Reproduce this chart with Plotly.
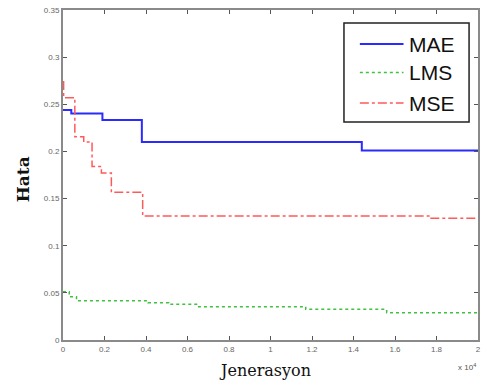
import plotly.graph_objects as go

# Step-wise error curves over generations (x in units of 10^4)
mae_x = [0, 0.04, 0.19, 0.38, 1.44, 2.0]
mae_y = [0.244, 0.2403, 0.2333, 0.2100, 0.2010, 0.2010]

lms_x = [0, 0.03, 0.065, 0.41, 0.51, 0.65, 1.17, 1.56, 2.0]
lms_y = [0.0513, 0.046, 0.0417, 0.0396, 0.0378, 0.0353, 0.0325, 0.029, 0.029]

mse_x = [0, 0.003, 0.057, 0.10, 0.14, 0.185, 0.233, 0.384, 1.77, 2.0]
mse_y = [0.274, 0.257, 0.2156, 0.2100, 0.184, 0.177, 0.1566, 0.1315, 0.129, 0.129]

x_ticks = [0, 0.2, 0.4, 0.6, 0.8, 1, 1.2, 1.4, 1.6, 1.8, 2]
y_ticks = [0, 0.05, 0.1, 0.15, 0.2, 0.25, 0.3, 0.35]
y_tick_text = ["0", "0.05", "0.1", "0.15", "0.2", "0.25", "0.3", "0.35"]

series = [
    ("MAE", mae_x, mae_y, dict(color="#2b2bff", width=2, dash="solid")),
    ("LMS", lms_x, lms_y, dict(color="#3fc23f", width=1.5, dash="dot")),
    ("MSE", mse_x, mse_y, dict(color="#ff5a5a", width=1.5, dash="dashdot")),
]

W, H = 487, 385
L, R, T, B = 63, 6, 10, 45
PW, PH = W - L - R, H - T - B


def px(x):
    return (x - L) / PW


def py(y):
    return (H - B - y) / PH


fig = go.Figure()
for name, xs, ys, ln in series:
    fig.add_trace(go.Scatter(x=xs, y=ys, name=name, mode="lines", showlegend=False,
                             line=dict(shape="hv", **ln)))

axis_common = dict(showline=True, linecolor="#8a8a8a", linewidth=2, mirror="ticks",
                   ticks="inside", ticklen=4, tickcolor="#555", showgrid=False,
                   zeroline=False, tickfont=dict(family="Liberation Sans", size=8, color="#666"))

fig.update_xaxes(range=[0, 2], tickvals=x_ticks, **axis_common)
fig.update_yaxes(range=[0, 0.35], tickvals=y_ticks, ticktext=y_tick_text, **axis_common)

# Axis titles
fig.add_annotation(text="Jenerasyon", x=px(266), y=py(370), xref="paper", yref="paper",
                   xanchor="center", yanchor="middle", showarrow=False,
                   font=dict(family="DejaVu Serif", size=16, color="#111"))
fig.add_annotation(text="<b>Hata</b>", x=px(23), y=py(179), xref="paper", yref="paper",
                   xanchor="center", yanchor="middle", showarrow=False, textangle=-90,
                   font=dict(family="DejaVu Serif", size=17, color="#111"))
fig.add_annotation(text="x 10<sup>4</sup>", x=1.0, y=-0.06, xref="paper", yref="paper",
                   xanchor="right", yanchor="top", showarrow=False,
                   font=dict(family="Liberation Sans", size=8, color="#555"))

# Legend box with line samples
fig.add_shape(type="rect", xref="paper", yref="paper",
              x0=px(346), x1=px(472), y0=py(122), y1=py(23),
              line=dict(color="#222", width=1.5), fillcolor="white", layer="above")
legend_rows = [44, 72.5, 103]
for (name, _, _, ln), ry in zip(series, legend_rows):
    fig.add_shape(type="line", xref="paper", yref="paper",
                  x0=px(362), x1=px(406), y0=py(ry), y1=py(ry),
                  line=ln, layer="above")
    fig.add_annotation(text=name, x=px(409), y=py(ry), xref="paper", yref="paper",
                       xanchor="left", yanchor="middle", showarrow=False,
                       font=dict(family="Liberation Sans", size=21, color="#111"))

fig.update_layout(
    width=W, height=H,
    margin=dict(l=L, r=R, t=T, b=B),
    plot_bgcolor="white", paper_bgcolor="white",
)

fig.write_html("out.html")
